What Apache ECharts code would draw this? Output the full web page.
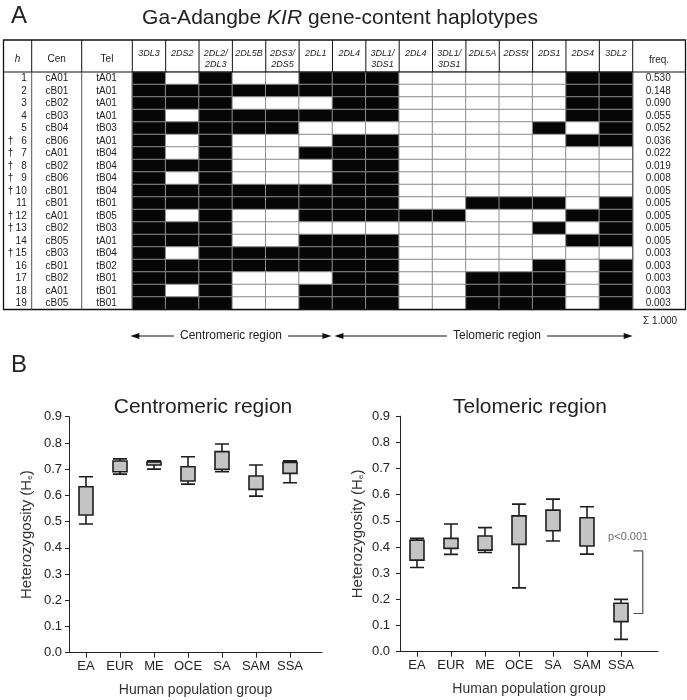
<!DOCTYPE html>
<html>
<head>
<meta charset="utf-8">
<script src="https://cdn.jsdelivr.net/npm/echarts@6/dist/echarts.min.js"></script>
<style>
  html, body { margin: 0; padding: 0; background: #fff; }
  #chart { width: 687px; height: 700px; }
</style>
</head>
<body>
<div id="chart"></div>
<script>
// --- Panel A: haplotype table ---
const genes = ['3DL3', '2DS2', '2DL2/\n2DL3', '2DL5B', '2DS3/\n2DS5', '2DL1', '2DL4', '3DL1/\n3DS1',
  '2DL4', '3DL1/\n3DS1', '2DL5A', '2DS5t', '2DS1', '2DS4', '3DL2'];
const hapIds = ['1', '2', '3', '4', '5', '6', '7', '8', '9', '10', '11', '12', '13', '14', '15', '16', '17', '18', '19'];
const daggers = ['', '', '', '', '', '†', '†', '†', '†', '†', '', '†', '†', '', '†', '', '', '', ''];
const cenHaps = ['cA01', 'cB01', 'cB02', 'cB03', 'cB04', 'cB06', 'cA01', 'cB02', 'cB06', 'cB01',
  'cB01', 'cA01', 'cB02', 'cB05', 'cB03', 'cB01', 'cB02', 'cA01', 'cB05'];
const telHaps = ['tA01', 'tA01', 'tA01', 'tA01', 'tB03', 'tA01', 'tB04', 'tB04', 'tB04', 'tB04',
  'tB01', 'tB05', 'tB03', 'tA01', 'tB04', 'tB02', 'tB01', 'tB01', 'tB01'];
const freqs = ['0.530', '0.148', '0.090', '0.055', '0.052', '0.036', '0.022', '0.019', '0.008', '0.005',
  '0.005', '0.005', '0.005', '0.005', '0.003', '0.003', '0.003', '0.003', '0.003'];
// 1 = gene present (black cell), 0 = absent
const presence = [
  [1, 0, 1, 0, 0, 1, 1, 1, 0, 0, 0, 0, 0, 1, 1],
  [1, 1, 1, 1, 1, 1, 1, 1, 0, 0, 0, 0, 0, 1, 1],
  [1, 1, 1, 0, 0, 0, 1, 1, 0, 0, 0, 0, 0, 1, 1],
  [1, 0, 1, 1, 1, 1, 1, 1, 0, 0, 0, 0, 0, 1, 1],
  [1, 1, 1, 1, 1, 0, 0, 0, 0, 0, 0, 0, 1, 0, 1],
  [1, 0, 1, 0, 0, 0, 1, 1, 0, 0, 0, 0, 0, 1, 1],
  [1, 0, 1, 0, 0, 1, 1, 1, 0, 0, 0, 0, 0, 0, 0],
  [1, 1, 1, 0, 0, 0, 1, 1, 0, 0, 0, 0, 0, 0, 0],
  [1, 0, 1, 0, 0, 0, 1, 1, 0, 0, 0, 0, 0, 0, 0],
  [1, 1, 1, 1, 1, 1, 1, 1, 0, 0, 0, 0, 0, 0, 0],
  [1, 1, 1, 1, 1, 1, 1, 1, 0, 0, 1, 1, 1, 0, 1],
  [1, 0, 1, 0, 0, 1, 1, 1, 1, 1, 0, 0, 0, 1, 1],
  [1, 1, 1, 0, 0, 0, 0, 0, 0, 0, 0, 0, 1, 0, 1],
  [1, 1, 1, 0, 0, 1, 1, 1, 0, 0, 0, 0, 0, 1, 1],
  [1, 0, 1, 1, 1, 1, 1, 1, 0, 0, 0, 0, 0, 0, 0],
  [1, 1, 1, 1, 1, 1, 1, 1, 0, 0, 0, 0, 1, 0, 1],
  [1, 1, 1, 0, 0, 0, 1, 1, 0, 0, 1, 1, 1, 0, 1],
  [1, 0, 1, 0, 0, 1, 1, 1, 0, 0, 1, 1, 1, 0, 1],
  [1, 1, 1, 0, 0, 1, 1, 1, 0, 0, 1, 1, 1, 0, 1]
];
const freqTotal = 'Σ 1.000';

// --- Panel B: heterozygosity boxplots ---
const groups = ['EA', 'EUR', 'ME', 'OCE', 'SA', 'SAM', 'SSA'];
// centromeric region: whisker low, box low, box high, whisker high
const cenMin = [0.491, 0.681, 0.700, 0.643, 0.690, 0.597, 0.648];
const cenQ1  = [0.525, 0.690, 0.716, 0.655, 0.699, 0.623, 0.684];
const cenQ3  = [0.633, 0.731, 0.727, 0.709, 0.767, 0.674, 0.726];
const cenMax = [0.671, 0.739, 0.732, 0.747, 0.796, 0.716, 0.732];
// telomeric region
const telMin = [0.322, 0.372, 0.379, 0.244, 0.423, 0.373, 0.047];
const telQ1  = [0.350, 0.395, 0.388, 0.410, 0.462, 0.404, 0.115];
const telQ3  = [0.426, 0.433, 0.442, 0.519, 0.541, 0.512, 0.185];
const telMax = [0.433, 0.488, 0.474, 0.564, 0.583, 0.554, 0.200];
// significance bracket (SSA vs rest), in frame-axis units
const bracketX = [6.36, 6.64];
const bracketY = [0.385, 0.146];
const pText = 'p<0.001';
const pPos = [6.21, 0.44];

// --- layout ---
const FONT = 'Liberation Sans, Arial, sans-serif';
const INK = '#222';
const TBL = { left: 3.5, right: 685.5, top: 40, head: 72, bottom: 309.5 };
const GENE_X0 = 132.3;
const COL_W = 33.36;
const GENE_X1 = GENE_X0 + COL_W * genes.length;
const SEP_X = [31.7, 81.7];
const BAND = 34; // px per population group
const LEFT_PLOT = { left: 69, top: 416.7, height: 236, width: 253 };
const RIGHT_PLOT = { left: 400, top: 416.2, height: 235.5, width: 258 };

const heatData = [];
presence.forEach((row, r) => row.forEach((v, g) => heatData.push([g, r, v])));

// box data: no median line in the original, so median sits on the lower hinge
const boxData = (mn, q1, q3, mx) => groups.map((_, i) => [mn[i], q1[i], q1[i], q3[i], mx[i]]);

// --- table decorations ---
const seg = (x1, y1, x2, y2, color, w) => ({
  type: 'line', z: 100, silent: true,
  shape: { x1, y1, x2, y2 },
  style: { stroke: color, lineWidth: w }
});
const txt = (x, y, text, size, extra) => ({
  type: 'text', x, y, z: 101, silent: true,
  style: Object.assign({ text, fontSize: size, fontFamily: FONT, fill: INK, align: 'center', verticalAlign: 'middle' }, extra || {})
});
const head = (x, y, dir) => ({
  type: 'polygon', z: 100, silent: true,
  shape: { points: [[x, y], [x - dir * 9, y - 3], [x - dir * 9, y + 3]] },
  style: { fill: '#111' }
});
const regionArrow = (x1, x2, y, label, cx) => [
  seg(x1 + 4, y, x2 - 4, y, '#111', 1),
  head(x1, y, -1),
  head(x2, y, 1),
  txt(cx, y, label, 12, { backgroundColor: '#fff', padding: [0, 6] })
];

const graphics = [
  { type: 'rect', z: 100, silent: true,
    shape: { x: TBL.left, y: TBL.top, width: TBL.right - TBL.left, height: TBL.bottom - TBL.top },
    style: { fill: 'none', stroke: '#111', lineWidth: 1.3 } },
  seg(TBL.left, TBL.head, TBL.right, TBL.head, '#111', 1.2)
];
[...SEP_X, GENE_X0, GENE_X1].forEach(x => {
  graphics.push(seg(x, TBL.top, x, TBL.head, '#111', 1));
  graphics.push(seg(x, TBL.head, x, TBL.bottom, '#555', 1));
});
for (let k = 1; k < genes.length; k++) {
  const x = GENE_X0 + k * COL_W;
  graphics.push(seg(x, TBL.top, x, TBL.head, '#111', 1));
}
const headY = 59;
graphics.push(txt((TBL.left + SEP_X[0]) / 2, headY, 'h', 10, { fontStyle: 'italic' }));
graphics.push(txt((SEP_X[0] + SEP_X[1]) / 2, headY, 'Cen', 10));
graphics.push(txt((SEP_X[1] + GENE_X0) / 2, headY, 'Tel', 10));
graphics.push(txt((GENE_X1 + TBL.right) / 2, headY + 1, 'freq.', 10));
graphics.push(txt((GENE_X1 + TBL.right) / 2 + 1, 321, freqTotal, 10));
const midX = GENE_X0 + 6 * COL_W;
graphics.push(...regionArrow(GENE_X0 - 2, midX - 1, 336, 'Centromeric region', 231));
graphics.push(...regionArrow(midX + 2, GENE_X1, 336, 'Telomeric region', 497));

// --- axes helpers ---
const tableY = (data, extra) => Object.assign({
  type: 'category', gridIndex: 0, data, inverse: true, position: 'left',
  min: 0, max: data.length - 1,
  axisLine: { show: false }, axisTick: { show: false }, splitLine: { show: false },
  axisLabel: { interval: 0, fontSize: 10, color: INK, align: 'center' }
}, extra);

const frameX = (grid, plot) => ({
  type: 'value', gridIndex: grid, min: -0.5, max: -0.5 + plot.width / BAND,
  axisLine: { show: true, onZero: false, lineStyle: { color: INK, width: 1 } },
  axisTick: { show: false }, axisLabel: { show: false }, splitLine: { show: false },
  name: 'Human population group', nameLocation: 'middle', nameGap: 30,
  nameTextStyle: { fontSize: 14, color: '#333' }
});
const boxX = (grid) => ({
  type: 'category', gridIndex: grid, data: groups,
  axisLine: { show: false },
  axisTick: { show: true, alignWithLabel: true, length: 5, lineStyle: { color: INK } },
  axisLabel: { interval: 0, fontSize: 13, color: INK, margin: 7 },
  splitLine: { show: false }
});
const boxY = (grid, margin) => ({
  type: 'value', gridIndex: grid, min: 0, max: 0.9, interval: 0.1,
  axisLine: { show: true, lineStyle: { color: INK, width: 1 } },
  axisTick: { show: true, length: 4, lineStyle: { color: INK } },
  axisLabel: { fontSize: 13, color: INK, margin, formatter: v => v.toFixed(1) },
  splitLine: { show: false },
  name: 'Heterozygosity (H{sub|e})', nameLocation: 'middle', nameGap: 35,
  nameTextStyle: { fontSize: 15, color: '#333',
    rich: { sub: { fontSize: 8, color: '#333', verticalAlign: 'bottom', padding: [6, 0, 0, 0] } } }
});
const hiddenY = (grid) => ({ type: 'value', gridIndex: grid, min: 0, max: 0.9, show: false });

const boxStyle = { color: '#c4c4c4', borderColor: '#1e1e1e', borderWidth: 1.6 };

const option = {
  backgroundColor: '#fff',
  animation: false,
  textStyle: { fontFamily: FONT },
  title: [
    { text: 'A', left: 11, top: 4, padding: 0, textVerticalAlign: 'top',
      textStyle: { fontSize: 24, fontWeight: 'normal', color: INK } },
    { text: 'Ga-Adangbe {i|KIR} gene-content haplotypes', left: 340, top: 8, padding: 0,
      textAlign: 'center', textVerticalAlign: 'top',
      textStyle: { fontSize: 21, fontWeight: 'normal', color: INK,
        rich: { i: { fontSize: 21, fontStyle: 'italic', color: INK } } } },
    { text: 'B', left: 11, top: 353, padding: 0, textVerticalAlign: 'top',
      textStyle: { fontSize: 24, fontWeight: 'normal', color: INK } },
    { text: 'Centromeric region', left: 203, top: 397, padding: 0,
      textAlign: 'center', textVerticalAlign: 'top',
      textStyle: { fontSize: 21, fontWeight: 'normal', color: INK } },
    { text: 'Telomeric region', left: 530, top: 397, padding: 0,
      textAlign: 'center', textVerticalAlign: 'top',
      textStyle: { fontSize: 21, fontWeight: 'normal', color: INK } }
  ],
  grid: [
    { left: GENE_X0, top: TBL.head, width: GENE_X1 - GENE_X0, height: TBL.bottom - TBL.head },
    Object.assign({}, LEFT_PLOT),
    Object.assign({}, LEFT_PLOT, { width: 7 * BAND }),
    Object.assign({}, RIGHT_PLOT),
    Object.assign({}, RIGHT_PLOT, { width: 7 * BAND })
  ],
  visualMap: {
    type: 'piecewise', show: false, seriesIndex: 0, dimension: 2,
    pieces: [{ value: 0, color: '#ffffff' }, { value: 1, color: '#060606' }]
  },
  xAxis: [
    { type: 'category', gridIndex: 0, data: genes, position: 'top',
      axisLine: { show: false }, axisTick: { show: false }, splitLine: { show: false },
      axisLabel: { interval: 0, fontSize: 9, fontStyle: 'italic', color: INK,
        verticalAlign: 'top', lineHeight: 11, margin: 24 } },
    frameX(1, LEFT_PLOT),
    boxX(2),
    frameX(3, RIGHT_PLOT),
    boxX(4)
  ],
  yAxis: [
    tableY(hapIds, { axisLabel: { interval: 0, fontSize: 10, color: INK, align: 'right', margin: 105.6 } }),
    tableY(daggers, { axisLabel: { interval: 0, fontSize: 10, color: INK, align: 'center', margin: 121.8 } }),
    tableY(cenHaps, { axisLabel: { interval: 0, fontSize: 10, color: INK, align: 'center', margin: 75.3 } }),
    tableY(telHaps, { axisLabel: { interval: 0, fontSize: 10, color: INK, align: 'center', margin: 25.8 } }),
    tableY(freqs, { position: 'right',
      axisLabel: { interval: 0, fontSize: 10, color: INK, align: 'center', margin: 25.5 } }),
    hiddenY(1),
    boxY(2, 7),
    hiddenY(3),
    boxY(4, 10)
  ],
  series: [
    {
      name: 'haplotypes', type: 'heatmap', xAxisIndex: 0, yAxisIndex: 0,
      data: heatData,
      itemStyle: { borderColor: '#8c8c8c', borderWidth: 1 },
      emphasis: { disabled: true }
    },
    {
      name: 'Centromeric', type: 'boxplot', xAxisIndex: 2, yAxisIndex: 6,
      data: boxData(cenMin, cenQ1, cenQ3, cenMax),
      boxWidth: [14, 14], itemStyle: boxStyle
    },
    {
      name: 'Telomeric', type: 'boxplot', xAxisIndex: 4, yAxisIndex: 8,
      data: boxData(telMin, telQ1, telQ3, telMax),
      boxWidth: [14, 14], itemStyle: boxStyle
    },
    {
      name: 'bracket', type: 'line', xAxisIndex: 3, yAxisIndex: 7,
      data: [[bracketX[0], bracketY[0]], [bracketX[1], bracketY[0]], [bracketX[1], bracketY[1]], [bracketX[0], bracketY[1]]],
      symbol: 'none', silent: true,
      lineStyle: { color: '#555', width: 1.2 }
    },
    {
      name: 'p', type: 'scatter', xAxisIndex: 3, yAxisIndex: 7,
      data: [pPos], symbolSize: 0, silent: true,
      label: { show: true, position: 'inside', formatter: pText, fontSize: 11, color: '#444' }
    }
  ],
  graphic: graphics
};

const myChart = echarts.init(document.getElementById('chart'), null, { renderer: 'canvas' });
myChart.setOption(option);
</script>
</body>
</html>
